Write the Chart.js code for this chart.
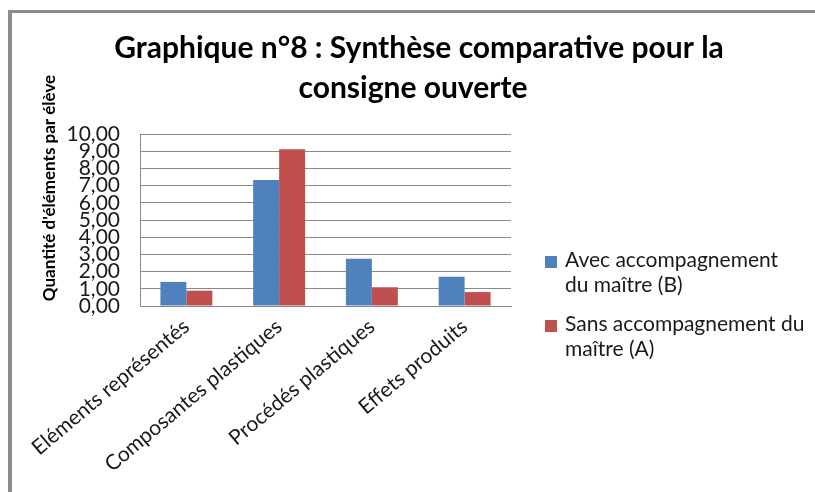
<!DOCTYPE html>
<html>
<head>
<meta charset="utf-8">
<script src="https://cdn.jsdelivr.net/npm/chart.js"></script>
<style>
  html, body { margin: 0; padding: 0; background: #fff; }
  #wrap { position: relative; width: 815px; height: 492px; overflow: hidden; }
  #frame { position: absolute; left: 8px; top: 10px; width: 900px; height: 600px;
           border-left: 4px solid #8c8c8c; border-top: 3px solid #8c8c8c; }
  #chart { position: absolute; left: 0; top: 0; }
</style>
</head>
<body>
<div id="wrap">
  <div id="frame"></div>
  <canvas id="chart" width="815" height="492"></canvas>
</div>
<script>
// data
var categories = ['Eléments représentés', 'Composantes plastiques', 'Procédés plastiques', 'Effets produits'];
var avecMaitre = [1.40, 7.33, 2.75, 1.70];   // (B)
var sansMaitre = [0.89, 9.11, 1.09, 0.81];   // (A)
var seriesNames = ['Avec accompagnement du maître (B)', 'Sans accompagnement du maître (A)'];
var legendLines = [['Avec accompagnement', 'du maître (B)'], ['Sans accompagnement du', 'maître (A)']];
var yTicks = ['0,00', '1,00', '2,00', '3,00', '4,00', '5,00', '6,00', '7,00', '8,00', '9,00', '10,00'];
var titleLines = ['Graphique n°8 : Synthèse comparative pour la', 'consigne ouverte'];
var yTitle = "Quantité d'éléments par élève";

var FONT = 'Lato';
var colors = ['#4f81bd', '#c0504d'];

// title, y title and legend are drawn by hand so they sit where Excel put them
var annotations = {
  id: 'annotations',
  afterDraw: function(chart) {
    var ctx = chart.ctx;
    ctx.save();
    ctx.fillStyle = '#000';
    ctx.textAlign = 'center';
    ctx.textBaseline = 'middle';
    ctx.font = 'bold 30px ' + FONT;
    ctx.fillText(titleLines[0], 419, 48);
    ctx.fillText(titleLines[1], 413, 88);

    ctx.save();
    ctx.translate(50, 188);
    ctx.rotate(-Math.PI / 2);
    ctx.font = 'bold 17px ' + FONT;
    ctx.fillText(yTitle, 0, 0);
    ctx.restore();

    // legend
    var top = [256, 320];
    ctx.textAlign = 'left';
    ctx.textBaseline = 'alphabetic';
    ctx.font = '21px ' + FONT;
    chart.data.datasets.forEach(function(ds, i) {
      ctx.fillStyle = ds.backgroundColor;
      ctx.fillRect(545, top[i], 12, 12);
      ctx.fillStyle = '#1a1a1a';
      legendLines[i].forEach(function(line, j) {
        ctx.fillText(line, 565, top[i] + 11 + j * 25);
      });
    });
    ctx.restore();
  }
};

var ctx = document.getElementById('chart');
var barChart = new Chart(ctx, {
  type: 'bar',
  data: {
    labels: categories,
    datasets: [
      { label: seriesNames[0], data: avecMaitre, backgroundColor: colors[0] },
      { label: seriesNames[1], data: sansMaitre, backgroundColor: colors[1] }
    ]
  },
  options: {
    responsive: false,
    animation: false,
    layout: { padding: { left: 60, right: 304, top: 134, bottom: 0 } },
    plugins: {
      legend: { display: false },
      title: { display: false },
      tooltip: { enabled: false }
    },
    datasets: {
      bar: { barPercentage: 1, categoryPercentage: 0.56 }
    },
    scales: {
      x: {
        grid: { display: false, drawTicks: false },
        border: { display: true, color: '#8a8a8a' },
        ticks: {
          color: '#1a1a1a',
          font: { family: FONT, size: 21 },
          minRotation: 40,
          maxRotation: 40,
          padding: 8
        },
        afterFit: function(scale) { scale.height = 186; }
      },
      y: {
        min: 0,
        max: 10,
        grid: { color: '#8a8a8a', drawTicks: false },
        border: { display: true, color: '#8a8a8a' },
        ticks: {
          stepSize: 1,
          autoSkip: false,
          color: '#1a1a1a',
          font: { family: FONT, size: 21 },
          padding: 20,
          callback: function(value, index) { return yTicks[index]; }
        },
        afterFit: function(scale) { scale.width = 80; }
      }
    }
  },
  plugins: [annotations]
});
</script>
</body>
</html>
